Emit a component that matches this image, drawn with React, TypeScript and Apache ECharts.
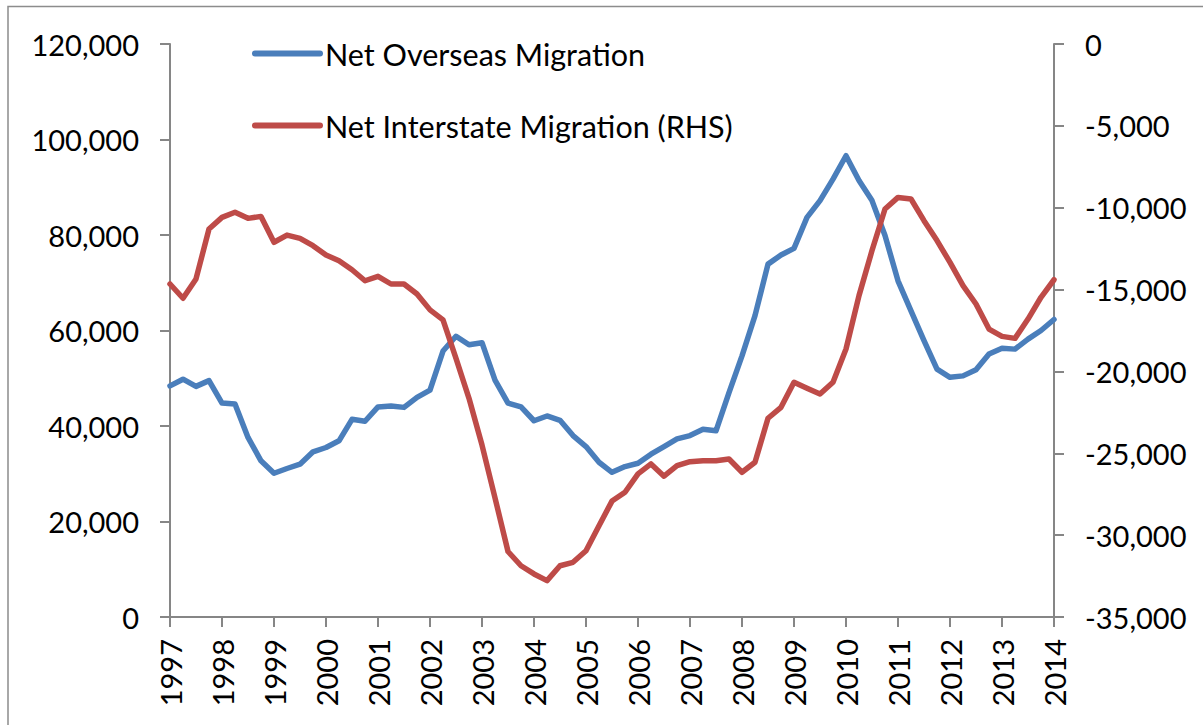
import React, { useEffect, useRef } from "react";
import * as echarts from "echarts";

const years = [1997, 1998, 1999, 2000, 2001, 2002, 2003, 2004, 2005, 2006, 2007, 2008, 2009, 2010, 2011, 2012, 2013, 2014];

// quarterly categories from 1997 Q1 to 2014 Q1
const categories: string[] = [];
years.forEach((y) => {
  for (let q = 1; q <= 4; q++) {
    if (y === 2014 && q > 1) break;
    categories.push(`${y}-Q${q}`);
  }
});

const netOverseas = [
  48400, 49800, 48300, 49500, 44800, 44600, 37600, 32700, 30100, 31100, 32000, 34600,
  35500, 36900, 41400, 41000, 44000, 44200, 43900, 46000, 47500, 55700, 58800, 57000,
  57450, 49600, 44800, 44000, 41100, 42100, 41200, 38000, 35700, 32400, 30300, 31500,
  32200, 34100, 35700, 37300, 38000, 39300, 39000, 47000, 54700, 63100, 73900, 75800,
  77200, 83700, 87200, 91700, 96600, 91400, 87200, 79900, 70400, 64100, 57900, 51900,
  50200, 50500, 51800, 55100, 56300, 56100, 58200, 60000, 62300,
];

const netInterstate = [
  -14660, -15530, -14350, -11300, -10590, -10280, -10650, -10530, -12110, -11670, -11870, -12320,
  -12890, -13240, -13790, -14460, -14190, -14660, -14660, -15270, -16240, -16850, -19200, -21640,
  -24500, -27720, -31000, -31870, -32370, -32780, -31870, -31660, -30950, -29420, -27920, -27380,
  -26260, -25650, -26400, -25760, -25510, -25450, -25450, -25350, -26160, -25550, -22860, -22190,
  -20660, -21030, -21380, -20660, -18630, -15370, -12620, -10080, -9370, -9470, -10790, -12010,
  -13340, -14760, -15880, -17410, -17860, -17980, -16800, -15470, -14400,
];

const seriesNames = ["Net Overseas Migration", "Net Interstate Migration (RHS)"];
const seriesColors = ["#4A7EBB", "#BE4B48"];

const FONT = "Lato";
const AXIS_COLOR = "#868686";

const fmt = (v: number) => v.toLocaleString("en-US");

export default function App() {
  const ref = useRef<HTMLDivElement>(null);

  useEffect(() => {
    document.body.style.margin = "0";
    if (!ref.current) return;
    const chart = echarts.init(ref.current, undefined, { renderer: "svg" });

    const legendBase = {
      orient: "horizontal" as const,
      left: 252,
      padding: 0,
      itemWidth: 65,
      itemHeight: 28,
      lineStyle: { width: 6, cap: "round" },
      itemStyle: { color: "rgba(0,0,0,0)", borderWidth: 0, opacity: 0 },
      textStyle: { fontFamily: FONT, fontSize: 30.5, color: "#000", lineHeight: 28 },
      selectedMode: false,
    };

    const axisLabelStyle = { fontFamily: FONT, fontSize: 29, color: "#000" };

    chart.setOption({
      animation: false,
      backgroundColor: "#fff",
      textStyle: { fontFamily: FONT },
      grid: { left: 170, right: 149, top: 44, bottom: 108, containLabel: false },
      legend: [
        { ...legendBase, top: 38, data: [seriesNames[0]] },
        { ...legendBase, top: 110, data: [seriesNames[1]] },
      ],
      graphic: [
        {
          type: "rect",
          shape: { x: 8, y: 6.5, width: 1400, height: 900 },
          style: { fill: "none", stroke: "#8c8c8c", lineWidth: 1.5 },
          silent: true,
        },
      ],
      xAxis: {
        type: "category",
        data: categories,
        boundaryGap: false,
        axisLine: { onZero: false, lineStyle: { color: AXIS_COLOR, width: 2 } },
        axisTick: { interval: 3, length: 10, lineStyle: { color: AXIS_COLOR, width: 2 } },
        axisLabel: {
          ...axisLabelStyle,
          interval: 3,
          rotate: 90,
          margin: 22,
          formatter: (v: string) => v.slice(0, 4),
        },
        splitLine: { show: false },
      },
      yAxis: [
        {
          type: "value",
          min: 0,
          max: 120000,
          interval: 20000,
          position: "left",
          axisLine: { show: true, lineStyle: { color: AXIS_COLOR, width: 2 } },
          axisTick: { show: true, length: 10, lineStyle: { color: AXIS_COLOR, width: 2 } },
          axisLabel: { ...axisLabelStyle, margin: 31, formatter: fmt },
          splitLine: { show: false },
        },
        {
          type: "value",
          min: -35000,
          max: 0,
          interval: 5000,
          position: "right",
          axisLine: { show: true, lineStyle: { color: AXIS_COLOR, width: 2 } },
          axisTick: { show: true, length: 10, lineStyle: { color: AXIS_COLOR, width: 2 } },
          axisLabel: { ...axisLabelStyle, margin: 31, formatter: fmt },
          splitLine: { show: false },
        },
      ],
      series: [
        {
          name: seriesNames[0],
          type: "line",
          yAxisIndex: 0,
          data: netOverseas,
          symbol: "none",
          color: seriesColors[0],
          lineStyle: { width: 5.5, color: seriesColors[0], join: "round", cap: "round" },
        },
        {
          name: seriesNames[1],
          type: "line",
          yAxisIndex: 1,
          data: netInterstate,
          symbol: "none",
          color: seriesColors[1],
          lineStyle: { width: 5.5, color: seriesColors[1], join: "round", cap: "round" },
        },
      ],
    });

    return () => chart.dispose();
  }, []);

  return <div ref={ref} style={{ width: 1203, height: 725 }} />;
}
